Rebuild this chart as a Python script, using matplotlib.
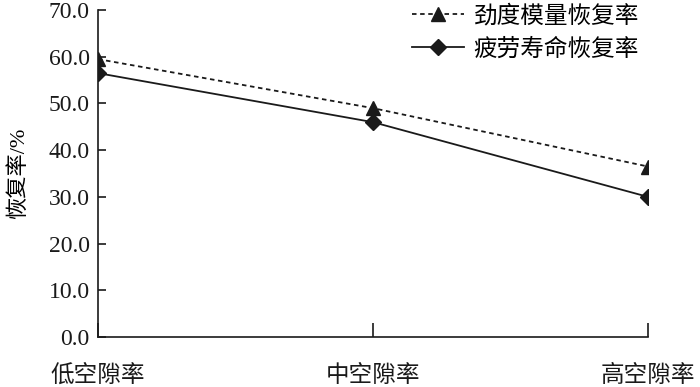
import matplotlib
matplotlib.use('Agg')
import matplotlib.pyplot as plt

plt.rcParams['font.family'] = ['Liberation Serif', 'Noto Sans CJK SC']

# 数据
categories = ['低空隙率', '中空隙率', '高空隙率']
stiffness_recovery = [59.5, 49.0, 36.5]   # 劲度模量恢复率
fatigue_recovery = [56.5, 46.0, 30.0]     # 疲劳寿命恢复率
y_ticks = [0, 10, 20, 30, 40, 50, 60, 70]

fig = plt.figure(figsize=(7.0, 3.87), dpi=100)
ax = fig.add_axes([0.14, 0.129, 0.786, 0.845])

x = list(range(len(categories)))
ink = '#1a1a1a'
ax.plot(x, stiffness_recovery, linestyle=(0, (2.5, 2)), color=ink, linewidth=1.3,
        marker='^', markersize=10, label='劲度模量恢复率')
ax.plot(x, fatigue_recovery, linestyle='-', color=ink, linewidth=1.3,
        marker='D', markersize=8.5, label='疲劳寿命恢复率')

ax.set_xlim(0, 2)
ax.set_ylim(0, 70)
ax.set_yticks(y_ticks)
ax.set_yticklabels([f'{v:.1f}' for v in y_ticks], fontsize=17)
ax.set_xticks(x)
ax.set_xticklabels(categories, fontsize=17)

ax.spines['top'].set_visible(False)
ax.spines['right'].set_visible(False)
for s in ['left', 'bottom']:
    ax.spines[s].set_color(ink)
    ax.spines[s].set_linewidth(1.2)
ax.tick_params(axis='y', direction='in', length=6, width=1.2, colors=ink, pad=6)
ax.tick_params(axis='x', direction='in', length=10, width=1.2, colors=ink, pad=20)

ax.set_ylabel('恢复率/%', fontsize=16, labelpad=14)

leg = ax.legend(loc='upper right', bbox_to_anchor=(1.0, 1.045), frameon=False,
                fontsize=17, handlelength=2.2, handletextpad=0.4, labelspacing=0.45,
                borderaxespad=0.0)

fig.savefig('out.png', dpi=100)
